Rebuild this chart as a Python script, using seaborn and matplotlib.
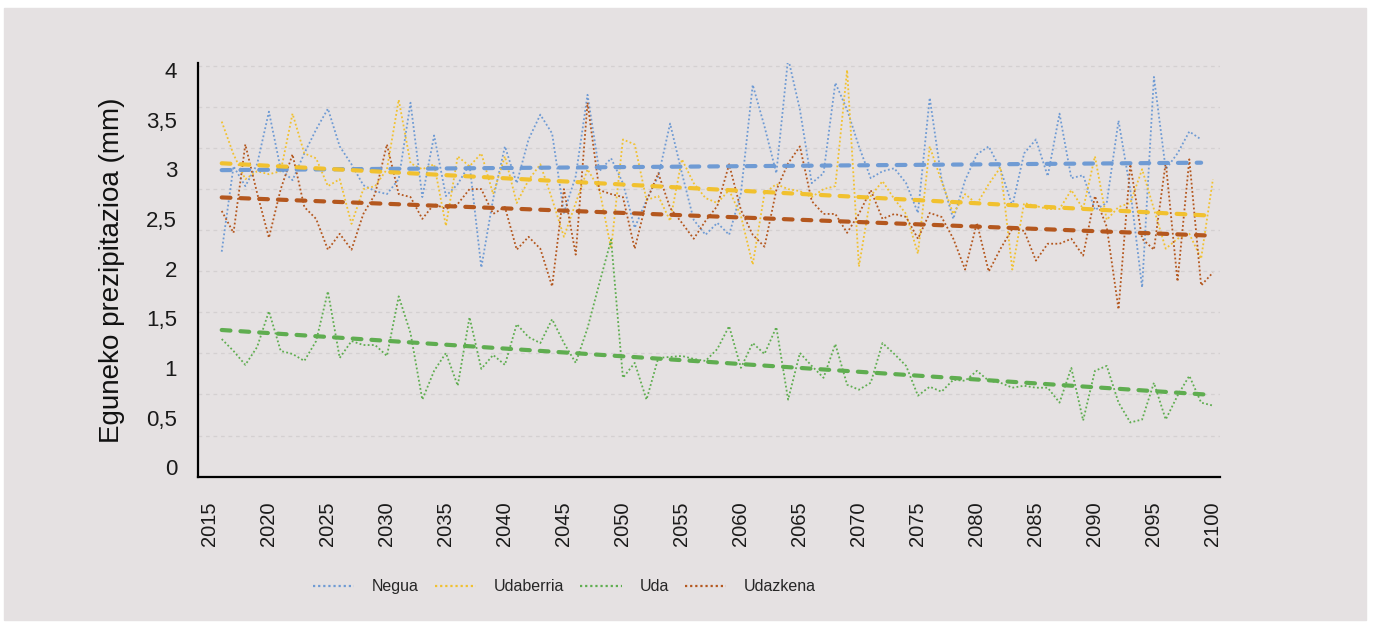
import numpy as np
import pandas as pd
import matplotlib
matplotlib.use("Agg")
import matplotlib.pyplot as plt
import seaborn as sns
from matplotlib.lines import Line2D
from matplotlib.patches import Rectangle

# --- Data ---
YEARS = list(range(2016, 2101))
SEASONS = ["Negua", "Udaberria", "Uda", "Udazkena"]

# Negua has no 2100 value
negua = [2.17, 3.03, 2.83, 3.05, 3.58, 3.00, 2.89, 3.16, 3.40, 3.61,
         3.23, 3.05, 2.84, 2.78, 2.75, 2.90, 3.67, 2.72, 3.34, 2.73,
         2.85, 3.05, 2.01, 2.70, 3.23, 2.86, 3.30, 3.55, 3.36, 2.56,
         2.93, 3.75, 2.98, 3.11, 2.86, 2.41, 2.69, 2.93, 3.46, 2.96,
         2.49, 2.34, 2.46, 2.34, 2.76, 3.85, 3.43, 2.96, 4.12, 3.60,
         2.86, 2.96, 3.87, 3.60, 3.23, 2.91, 2.98, 3.01, 2.86, 2.56,
         3.72, 2.90, 2.50, 2.89, 3.15, 3.23, 3.00, 2.63, 3.16, 3.30,
         2.93, 3.56, 2.91, 2.94, 2.59, 2.66, 3.49, 2.79, 1.81, 3.93,
         3.00, 3.16, 3.38, 3.30]

udaberria = [3.48, 3.15, 2.90, 2.98, 2.95, 2.98, 3.56, 3.16, 3.11, 2.83,
             2.90, 2.45, 2.80, 2.83, 3.00, 3.70, 3.06, 3.00, 3.05, 2.43,
             3.13, 3.03, 3.16, 2.75, 3.13, 2.66, 2.89, 3.05, 2.70, 2.32,
             2.66, 3.00, 2.80, 2.20, 3.30, 3.25, 2.69, 2.73, 2.48, 3.10,
             2.86, 2.71, 2.66, 2.79, 2.53, 2.04, 2.76, 2.85, 2.80, 2.78,
             2.72, 2.80, 2.83, 4.00, 2.02, 2.73, 2.88, 2.70, 2.55, 2.15,
             3.23, 2.88, 2.55, 2.75, 2.65, 2.85, 3.02, 1.99, 2.66, 2.63,
             2.60, 2.60, 2.79, 2.60, 3.13, 2.49, 2.62, 2.66, 3.00, 2.60,
             2.20, 2.30, 2.35, 2.10, 2.90]

uda = [1.29, 1.17, 1.03, 1.21, 1.57, 1.17, 1.14, 1.07, 1.27, 1.77,
       1.10, 1.27, 1.23, 1.23, 1.12, 1.72, 1.35, 0.68, 0.97, 1.15,
       0.82, 1.51, 0.99, 1.13, 1.03, 1.44, 1.31, 1.25, 1.49, 1.25,
       1.05, 1.40, 1.85, 2.29, 0.90, 1.05, 0.68, 1.10, 1.11, 1.12,
       1.09, 1.07, 1.19, 1.42, 1.00, 1.25, 1.14, 1.41, 0.68, 1.15,
       1.02, 0.90, 1.24, 0.83, 0.78, 0.85, 1.25, 1.14, 1.02, 0.72,
       0.81, 0.76, 0.88, 0.87, 0.97, 0.87, 0.85, 0.80, 0.82, 0.80,
       0.80, 0.65, 1.00, 0.47, 0.97, 1.02, 0.65, 0.45, 0.48, 0.85,
       0.48, 0.72, 0.92, 0.65, 0.62]

udazkena = [2.58, 2.36, 3.25, 2.76, 2.31, 2.80, 3.15, 2.62, 2.50, 2.19,
            2.35, 2.19, 2.55, 2.75, 3.25, 2.75, 2.72, 2.50, 2.65, 2.60,
            2.65, 2.80, 2.80, 2.55, 2.62, 2.19, 2.32, 2.20, 1.82, 2.80,
            2.14, 3.67, 2.79, 2.75, 2.72, 2.20, 2.68, 2.96, 2.61, 2.46,
            2.30, 2.48, 2.63, 3.05, 2.59, 2.34, 2.22, 2.79, 3.06, 3.23,
            2.68, 2.55, 2.55, 2.36, 2.55, 2.79, 2.50, 2.55, 2.52, 2.30,
            2.56, 2.52, 2.30, 1.99, 2.46, 1.97, 2.20, 2.40, 2.38, 2.08,
            2.25, 2.25, 2.30, 2.13, 2.73, 2.42, 1.59, 3.05, 2.30, 2.19,
            3.07, 1.87, 3.10, 1.83, 1.96]

Y_TICKS = [0, 0.5, 1, 1.5, 2, 2.5, 3, 3.5, 4]
Y_TICK_LABELS = ["0", "0,5", "1", "1,5", "2", "2,5", "3", "3,5", "4"]
X_TICKS = list(range(2015, 2101, 5))

COLORS = {"Negua": "#6f9bd4", "Udaberria": "#f1c12f",
          "Uda": "#5fad50", "Udazkena": "#b4571e"}
BG = "#e5e1e2"

# --- Long table ---
series = {"Negua": negua, "Udaberria": udaberria, "Uda": uda, "Udazkena": udazkena}
frames = []
for name in SEASONS:
    vals = series[name]
    frames.append(pd.DataFrame({"year": YEARS[:len(vals)], "value": vals, "season": name}))
df = pd.concat(frames, ignore_index=True)

sns.set_theme(style="white")
plt.rcParams["font.family"] = ["Liberation Sans", "DejaVu Sans"]

fig = plt.figure(figsize=(13.73, 6.25), dpi=100, facecolor="white")
fig.patches.append(Rectangle((4 / 1373, 5 / 625), 1362 / 1373, 612 / 625,
                             transform=fig.transFigure, color=BG, zorder=-5))

ax = fig.add_axes([198 / 1373, 148.3 / 625, 1022 / 1373, 413.7 / 625])
ax.set_facecolor(BG)

DOT = (0, (1, 1.3))
sns.lineplot(data=df, x="year", y="value", hue="season", hue_order=SEASONS,
             palette=COLORS, linestyle=DOT, linewidth=1.3, legend=False, ax=ax)

# linear trend per season, dashed
for name in SEASONS:
    sub = df[df["season"] == name]
    sns.regplot(data=sub, x="year", y="value", scatter=False, ci=None, truncate=True,
                color=COLORS[name], ax=ax,
                line_kws=dict(lw=3.0, linestyle=(0, (2.1, 2.4)), dash_capstyle="round"))

ax.set_xlim(2013.99, 2100.6)
ax.set_ylim(-0.087, 4.07)

ax.set_yticks(Y_TICKS)
ax.set_yticklabels(Y_TICK_LABELS, fontsize=16, color="#1a1a1a")
ax.set_xticks(X_TICKS)
ax.set_xticklabels([str(y) for y in X_TICKS], rotation=90, fontsize=14.5, color="#1a1a1a")
ax.tick_params(axis="y", which="both", length=0, pad=15)
ax.tick_params(axis="x", which="both", length=0, pad=18)

# faint dashed gridlines
ax.set_yticks(np.linspace(4.044, -0.096, 11), minor=True)
ax.yaxis.grid(True, which="minor", color="#d4d0d1", linestyle=(0, (3, 3)), lw=0.9)
ax.yaxis.grid(False, which="major")
ax.xaxis.grid(False)
ax.set_axisbelow(True)

for side in ["top", "right"]:
    ax.spines[side].set_visible(False)
for side in ["left", "bottom"]:
    ax.spines[side].set_color("black")
    ax.spines[side].set_linewidth(1.6)

ax.set_xlabel("")
ax.set_ylabel("Eguneko prezipitazioa (mm)", fontsize=20, color="#111111")
ax.yaxis.set_label_coords(-0.0714, 0.5)

handles = [Line2D([], [], color=COLORS[n], linestyle=DOT, linewidth=1.6) for n in SEASONS]
fig.legend(handles, SEASONS, loc="center", bbox_to_anchor=(0.411, 0.061), ncol=4,
           frameon=False, handlelength=2.6, handletextpad=1.1, columnspacing=1.0,
           prop=dict(size=11.5))

fig.savefig("out.png", dpi=100, facecolor="white")
